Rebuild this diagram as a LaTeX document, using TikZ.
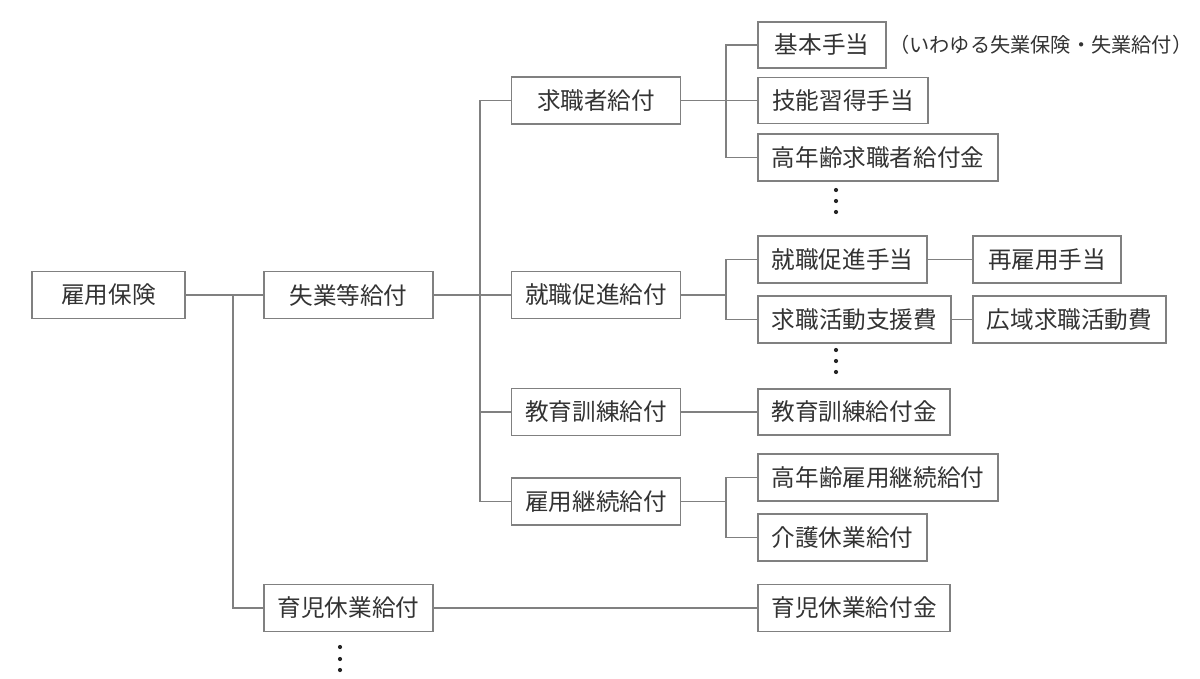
\documentclass[tikz,border=0pt]{standalone}
\usepackage{fontspec}
\setmainfont{Noto Sans CJK JP}
\definecolor{boxline}{HTML}{808080}
\definecolor{txt}{HTML}{333333}
\tikzset{
  box/.style={draw=boxline, line width=1.4pt, rectangle, inner sep=0pt, text=txt,
    font=\fontsize{23.6}{25}\selectfont, minimum height=47pt},
  conn/.style={draw=boxline, line width=1.4pt},
  dotmark/.style={fill=black!85}
}
\begin{document}
\begin{tikzpicture}[x=1pt,y=-1pt]
\useasboundingbox (0,0) rectangle (1200,678);
\fill[white] (0,0) rectangle (1200,678);
% level 0
\node[box, minimum width=153pt] (a) at (108.5,295) {雇用保険};
% level 1
\node[box, minimum width=169pt] (b) at (348.5,295) {失業等給付};
\node[box, minimum width=169pt] (c) at (348.5,608) {育児休業給付};
% level 2
\node[box, minimum width=169pt] (d) at (596,100.5) {求職者給付};
\node[box, minimum width=169pt] (e) at (596,295) {就職促進給付};
\node[box, minimum width=169pt] (f) at (596,412) {教育訓練給付};
\node[box, minimum width=169pt] (g) at (596,501.5) {雇用継続給付};
% level 3
\node[box, minimum width=128pt, minimum height=46pt] (h) at (822,45) {基本手当};
\node[box, minimum width=170pt, minimum height=46pt] (i) at (843,100.5) {技能習得手当};
\node[box, minimum width=240pt] (j) at (878,157.5) {高年齢求職者給付金};
\node[box, minimum width=169pt] (k) at (842.5,259.5) {就職促進手当};
\node[box, minimum width=193pt] (l) at (854.5,319.5) {求職活動支援費};
\node[box, minimum width=192pt, minimum height=46pt] (o) at (854,412) {教育訓練給付金};
\node[box, minimum width=240pt] (p) at (878,477.5) {高年齢雇用継続給付};
\node[box, minimum width=169pt] (q) at (842.5,537.5) {介護休業給付};
\node[box, minimum width=192pt] (r) at (854,608) {育児休業給付金};
% level 4
\node[box, minimum width=148pt] (m) at (1047,259.5) {再雇用手当};
\node[box, minimum width=193pt] (n) at (1069.5,319.5) {広域求職活動費};
% note
\node[text=txt, font=\fontsize{20.2}{22}\selectfont, anchor=west, inner sep=0pt] (note) at (889,45) {（いわゆる失業保険・失業給付）};
% junctions
\coordinate (j1) at (233,295);
\coordinate (j2) at (480,295);
\coordinate (j3) at (726,100.5);
\coordinate (j4) at (726,295);
\coordinate (j5) at (726,501.5);
% connectors
\draw[conn] (a) -- (b);
\draw[conn] (j1) |- (c);
\draw[conn] (b) -- (e);
\draw[conn] (d.west) -| (j2);
\draw[conn] (g.west) -| (j2);
\draw[conn] (f.west) -- (f.west -| j2);
\draw[conn] (d) -- (i);
\draw[conn] (h.west) -| (j3);
\draw[conn] (j.west) -| (j3);
\draw[conn] (e.east) -- (j4);
\draw[conn] (k.west) -| (j4);
\draw[conn] (l.west) -| (j4);
\draw[conn] (f) -- (o);
\draw[conn] (g.east) -- (j5);
\draw[conn] (p.west) -| (j5);
\draw[conn] (q.west) -| (j5);
\draw[conn] (c) -- (r);
\draw[conn] (k) -- (m);
\draw[conn] (l) -- (n);
% ellipsis dots
\foreach \yy in {190,201,212} { \fill[dotmark] (836,\yy) circle (2.1pt); }
\foreach \yy in {350,361,372} { \fill[dotmark] (836,\yy) circle (2.1pt); }
\foreach \yy in {647,659,670} { \fill[dotmark] (340,\yy) circle (2.1pt); }
\end{tikzpicture}
\end{document}
